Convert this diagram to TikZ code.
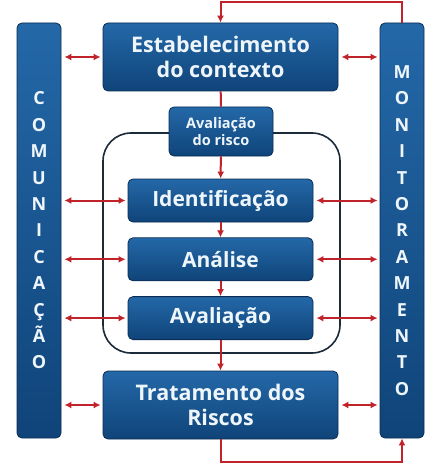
\documentclass[tikz,border=0pt]{standalone}
\usepackage{fontspec}
\setmainfont{Open Sans}
\usepackage{tikz}
\usetikzlibrary{arrows.meta, positioning, calc}

\definecolor{boxtop}{HTML}{2468A8}
\definecolor{boxbot}{HTML}{0F4479}
\definecolor{boxedge}{HTML}{0A2C55}
\definecolor{boxtext}{HTML}{EEF6FB}
\definecolor{riskred}{HTML}{C1232B}
\definecolor{zoneline}{HTML}{1C2B3A}

\begin{document}
\begin{tikzpicture}[x=1pt, y=-1pt,
    block/.style={rectangle, rounded corners=5pt, draw=boxedge, line width=0.8pt, top color=boxtop, bottom color=boxbot, text=boxtext, align=center, inner sep=0pt, font=\bfseries\fontsize{21.5}{25}\selectfont},
    bigblock/.style={block, minimum width=235pt, minimum height=68pt},
    stepblock/.style={block, minimum width=185pt, minimum height=43pt, font=\bfseries\fontsize{21}{24}\selectfont},
    headblock/.style={block, minimum width=104pt, minimum height=49pt, font=\bfseries\fontsize{14.5}{17}\selectfont},
    sidebar/.style={block, minimum width=44pt, minimum height=415pt, font=\bfseries\fontsize{18}{26.4}\selectfont},
    zone/.style={rectangle, rounded corners=28pt, draw=zoneline, line width=1.6pt, minimum width=237pt, minimum height=220pt},
    duplex/.style={draw=riskred, line width=2pt, {Latex[length=7pt,width=7pt]}-{Latex[length=7pt,width=7pt]}, shorten <=3pt, shorten >=2pt},
    flow/.style={draw=riskred, line width=2pt, -{Latex[length=7pt,width=7pt]}},
    link/.style={draw=riskred, line width=2pt}]

    \fill[white] (0,0) rectangle (434,476);
    \useasboundingbox (0,0) rectangle (434,476);

    % risk assessment zone behind the steps
    \node [zone] (riskzone) at (221.5,243) {};

    \node [sidebar] (combar) at (39,230.5) {C\\O\\M\\U\\N\\I\\C\\A\\Ç\\Ã\\O};
    \node [sidebar] (monbar) at (402,230.5) {M\\O\\N\\I\\T\\O\\R\\A\\M\\E\\N\\T\\O};

    \node [bigblock] (estab) at (220.5,57) {Estabelecimento\\do contexto};
    \node [headblock] (riskhead) at (221,131.5) {Avaliação\\do risco};
    \node [stepblock] (ident) at (220.5,200.5) {Identificação};
    \node [stepblock, below=15pt of ident] (analise) {Análise};
    \node [stepblock, below=15pt of analise] (avalia) {Avaliação};
    \node [bigblock] (trat) at (220.5,405) {Tratamento dos\\Riscos};

    \coordinate (topturn) at (0,2);
    \coordinate (botturn) at (0,462);

    % main flow
    \path [link] (estab) -- (riskhead);
    \path [flow] (riskhead) -- (ident);
    \path [flow] (ident) -- (analise);
    \path [flow] (analise) -- (avalia);
    \path [flow] (avalia.south) -- (trat.north);

    % feedback loops
    \path [flow] (monbar.north) -- (monbar.north |- topturn) -| (estab.north);
    \path [flow] (trat.south) -- (trat.south |- botturn) -| (monbar.south);

    % communication and monitoring
    \foreach \step in {estab, ident, analise, avalia, trat} {
        \path [duplex] (\step.west -| combar.east) -- (\step.west);
        \path [duplex] (\step.east) -- (\step.east -| monbar.west);
    }
\end{tikzpicture}
\end{document}
